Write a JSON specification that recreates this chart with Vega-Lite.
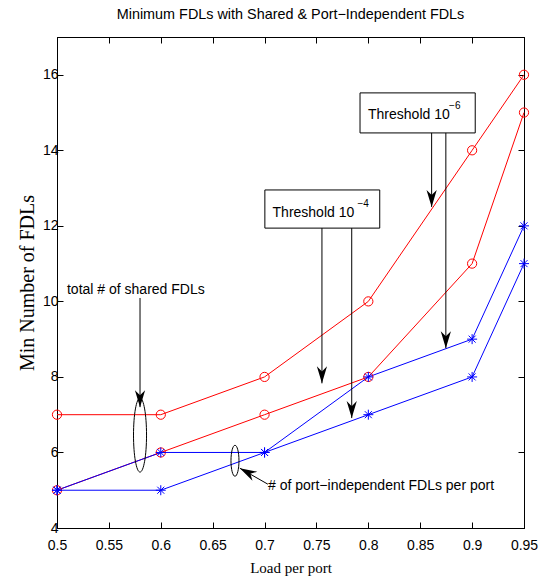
{
  "$schema": "https://vega.github.io/schema/vega-lite/v6.json",
  "width": 467,
  "height": 491,
  "autosize": {"type": "none"},
  "padding": {"left": 57, "top": 37, "right": 30, "bottom": 51},
  "title": {
    "text": "Minimum FDLs with Shared & Port−Independent FDLs",
    "font": "Liberation Sans",
    "fontSize": 14.4,
    "fontWeight": "normal",
    "color": "black",
    "anchor": "middle",
    "baseline": "alphabetic",
    "offset": 3
  },
  "config": {
    "view": {"stroke": "black", "strokeWidth": 1},
    "axis": {
      "grid": false,
      "domainColor": "black",
      "tickColor": "black",
      "labelColor": "black",
      "labelFont": "Liberation Sans",
      "labelFontSize": 14,
      "labelFlush": false,
      "tickSize": -6,
      "titleFont": "Liberation Serif",
      "titleFontWeight": "normal",
      "titleColor": "black"
    },
    "axisX": {"labelPadding": 16, "titleFontSize": 15, "titlePadding": 8},
    "axisY": {"labelPadding": 5, "titleFontSize": 20, "titlePadding": 5}
  },
  "datasets": {
    "series": [
      {"load": 0.5, "fdl": 7, "series": "Shared FDLs, threshold 1e-6"},
      {"load": 0.6, "fdl": 7, "series": "Shared FDLs, threshold 1e-6"},
      {"load": 0.7, "fdl": 8, "series": "Shared FDLs, threshold 1e-6"},
      {"load": 0.8, "fdl": 10, "series": "Shared FDLs, threshold 1e-6"},
      {"load": 0.9, "fdl": 14, "series": "Shared FDLs, threshold 1e-6"},
      {"load": 0.95, "fdl": 16, "series": "Shared FDLs, threshold 1e-6"},
      {"load": 0.5, "fdl": 5, "series": "Shared FDLs, threshold 1e-4"},
      {"load": 0.6, "fdl": 6, "series": "Shared FDLs, threshold 1e-4"},
      {"load": 0.7, "fdl": 7, "series": "Shared FDLs, threshold 1e-4"},
      {"load": 0.8, "fdl": 8, "series": "Shared FDLs, threshold 1e-4"},
      {"load": 0.9, "fdl": 11, "series": "Shared FDLs, threshold 1e-4"},
      {"load": 0.95, "fdl": 15, "series": "Shared FDLs, threshold 1e-4"},
      {"load": 0.5, "fdl": 5, "series": "Port-independent FDLs, threshold 1e-6"},
      {"load": 0.6, "fdl": 6, "series": "Port-independent FDLs, threshold 1e-6"},
      {"load": 0.7, "fdl": 6, "series": "Port-independent FDLs, threshold 1e-6"},
      {"load": 0.8, "fdl": 8, "series": "Port-independent FDLs, threshold 1e-6"},
      {"load": 0.9, "fdl": 9, "series": "Port-independent FDLs, threshold 1e-6"},
      {"load": 0.95, "fdl": 12, "series": "Port-independent FDLs, threshold 1e-6"},
      {"load": 0.5, "fdl": 5, "series": "Port-independent FDLs, threshold 1e-4"},
      {"load": 0.6, "fdl": 5, "series": "Port-independent FDLs, threshold 1e-4"},
      {"load": 0.7, "fdl": 6, "series": "Port-independent FDLs, threshold 1e-4"},
      {"load": 0.8, "fdl": 7, "series": "Port-independent FDLs, threshold 1e-4"},
      {"load": 0.9, "fdl": 8, "series": "Port-independent FDLs, threshold 1e-4"},
      {"load": 0.95, "fdl": 11, "series": "Port-independent FDLs, threshold 1e-4"}
    ],
    "boxes": [
      {"label": "Threshold 1e-6", "x1": 0.792, "x2": 0.903, "y1": 14.46, "y2": 15.52},
      {"label": "Threshold 1e-4", "x1": 0.7003, "x2": 0.811, "y1": 11.94, "y2": 12.95}
    ],
    "arrows": [
      {"x1": 0.58, "y1": 10.09, "x2": 0.58, "y2": 7.2},
      {"x1": 0.861, "y1": 14.46, "x2": 0.861, "y2": 12.5},
      {"x1": 0.8747, "y1": 14.46, "x2": 0.8747, "y2": 8.76},
      {"x1": 0.7553, "y1": 11.94, "x2": 0.7553, "y2": 7.83},
      {"x1": 0.784, "y1": 11.94, "x2": 0.784, "y2": 6.91},
      {"x1": 0.7032, "y1": 5.16, "x2": 0.6762, "y2": 5.583}
    ],
    "ellipses": [
      {"group": "shared", "x": 0.58, "y": 6.46},
      {"group": "port", "x": 0.6715, "y": 5.78}
    ],
    "labels": [
      {"role": "main", "text": "Threshold 10", "x": 0.7997, "y": 14.93},
      {"role": "sup", "text": "−6", "x": 0.8778, "y": 15.16},
      {"role": "main", "text": "Threshold 10", "x": 0.7077, "y": 12.35},
      {"role": "sup", "text": "−4", "x": 0.7895, "y": 12.57},
      {"role": "main", "text": "total # of shared FDLs", "x": 0.5096, "y": 10.31},
      {"role": "main", "text": "# of port−independent FDLs per port", "x": 0.7033, "y": 5.12}
    ]
  },
  "layer": [
    {
      "layer": [
        {
          "data": {"name": "series"},
          "mark": {"type": "line", "strokeWidth": 1},
          "encoding": {
            "x": {
              "field": "load",
              "type": "quantitative",
              "scale": {"domain": [0.5, 0.95], "nice": false, "zero": false},
              "axis": {"title": "Load per port", "values": [0.5, 0.55, 0.6, 0.65, 0.7, 0.75, 0.8, 0.85, 0.9, 0.95], "format": "~g"}
            },
            "y": {
              "field": "fdl",
              "type": "quantitative",
              "scale": {"domain": [4, 17], "nice": false, "zero": false},
              "axis": {"title": "Min Number of FDLs", "values": [4, 6, 8, 10, 12, 14, 16]}
            },
            "color": {
              "field": "series",
              "type": "nominal",
              "scale": {
                "domain": ["Shared FDLs, threshold 1e-6", "Shared FDLs, threshold 1e-4", "Port-independent FDLs, threshold 1e-6", "Port-independent FDLs, threshold 1e-4"],
                "range": ["#ff0000", "#ff0000", "#0000ff", "#0000ff"]
              },
              "legend": null
            }
          }
        },
        {
          "data": {"name": "series"},
          "transform": [{"filter": "test(/^Shared/, datum.series)"}],
          "mark": {"type": "point", "shape": "circle", "filled": false, "stroke": "#ff0000", "strokeWidth": 1, "size": 85, "opacity": 1},
          "encoding": {
            "x": {"field": "load", "type": "quantitative"},
            "y": {"field": "fdl", "type": "quantitative"}
          }
        },
        {
          "data": {"name": "series"},
          "transform": [{"filter": "test(/^Port/, datum.series)"}],
          "mark": {"type": "point", "shape": "M-1,0L1,0M0,-1L0,1M-0.7,-0.7L0.7,0.7M-0.7,0.7L0.7,-0.7", "filled": false, "stroke": "#0000ff", "strokeWidth": 1, "size": 100, "opacity": 1},
          "encoding": {
            "x": {"field": "load", "type": "quantitative"},
            "y": {"field": "fdl", "type": "quantitative"}
          }
        },
        {
          "data": {"name": "boxes"},
          "mark": {"type": "rect", "fill": "white", "stroke": "black", "strokeWidth": 1},
          "encoding": {
            "x": {"field": "x1", "type": "quantitative"},
            "x2": {"field": "x2"},
            "y": {"field": "y1", "type": "quantitative"},
            "y2": {"field": "y2"}
          }
        },
        {
          "data": {"name": "arrows"},
          "mark": {"type": "rule", "color": "black", "strokeWidth": 1},
          "encoding": {
            "x": {"field": "x1", "type": "quantitative"},
            "y": {"field": "y1", "type": "quantitative"},
            "x2": {"field": "x2"},
            "y2": {"field": "y2"}
          }
        },
        {
          "data": {"name": "arrows"},
          "transform": [{"filter": "datum.x1 == datum.x2"}],
          "mark": {"type": "point", "shape": "M0,0L-0.3,-1L0,-0.7L0.3,-1Z", "filled": true, "fill": "black", "size": 1156, "opacity": 1},
          "encoding": {
            "x": {"field": "x2", "type": "quantitative"},
            "y": {"field": "y2", "type": "quantitative"}
          }
        },
        {
          "data": {"name": "arrows"},
          "transform": [{"filter": "datum.x1 != datum.x2"}],
          "mark": {"type": "point", "shape": "M0,0L-0.3,-1L0,-0.7L0.3,-1Z", "filled": true, "fill": "black", "size": 1156, "angle": 118, "opacity": 1},
          "encoding": {
            "x": {"field": "x2", "type": "quantitative"},
            "y": {"field": "y2", "type": "quantitative"}
          }
        },
        {
          "data": {"name": "ellipses"},
          "transform": [{"filter": "datum.group == 'shared'"}],
          "mark": {"type": "point", "shape": "M0,-1C0.0972,-1 0.176,-0.5523 0.176,0C0.176,0.5523 0.0972,1 0,1C-0.0972,1 -0.176,0.5523 -0.176,0C-0.176,-0.5523 -0.0972,-1 0,-1Z", "filled": false, "stroke": "black", "strokeWidth": 1, "size": 5476, "opacity": 1},
          "encoding": {
            "x": {"field": "x", "type": "quantitative"},
            "y": {"field": "y", "type": "quantitative"}
          }
        },
        {
          "data": {"name": "ellipses"},
          "transform": [{"filter": "datum.group == 'port'"}],
          "mark": {"type": "point", "shape": "M0,-1C0.1425,-1 0.258,-0.5523 0.258,0C0.258,0.5523 0.1425,1 0,1C-0.1425,1 -0.258,0.5523 -0.258,0C-0.258,-0.5523 -0.1425,-1 0,-1Z", "filled": false, "stroke": "black", "strokeWidth": 1, "size": 961, "opacity": 1},
          "encoding": {
            "x": {"field": "x", "type": "quantitative"},
            "y": {"field": "y", "type": "quantitative"}
          }
        },
        {
          "data": {"name": "labels"},
          "transform": [{"filter": "datum.role == 'main'"}],
          "mark": {"type": "text", "align": "left", "baseline": "middle", "font": "Liberation Sans", "fontSize": 14, "color": "black"},
          "encoding": {
            "x": {"field": "x", "type": "quantitative"},
            "y": {"field": "y", "type": "quantitative"},
            "text": {"field": "text"}
          }
        },
        {
          "data": {"name": "labels"},
          "transform": [{"filter": "datum.role == 'sup'"}],
          "mark": {"type": "text", "align": "left", "baseline": "middle", "font": "Liberation Sans", "fontSize": 10, "color": "black"},
          "encoding": {
            "x": {"field": "x", "type": "quantitative"},
            "y": {"field": "y", "type": "quantitative"},
            "text": {"field": "text"}
          }
        }
      ]
    },
    {
      "data": {"name": "series"},
      "mark": {"type": "point", "opacity": 0},
      "encoding": {
        "x": {
          "field": "load",
          "type": "quantitative",
          "scale": {"domain": [0.5, 0.95], "nice": false, "zero": false},
          "axis": {"orient": "top", "labels": false, "title": null, "values": [0.5, 0.55, 0.6, 0.65, 0.7, 0.75, 0.8, 0.85, 0.9, 0.95]}
        },
        "y": {
          "field": "fdl",
          "type": "quantitative",
          "scale": {"domain": [4, 17], "nice": false, "zero": false},
          "axis": {"orient": "right", "labels": false, "title": null, "values": [4, 6, 8, 10, 12, 14, 16]}
        }
      }
    }
  ],
  "resolve": {"axis": {"x": "independent", "y": "independent"}}
}
